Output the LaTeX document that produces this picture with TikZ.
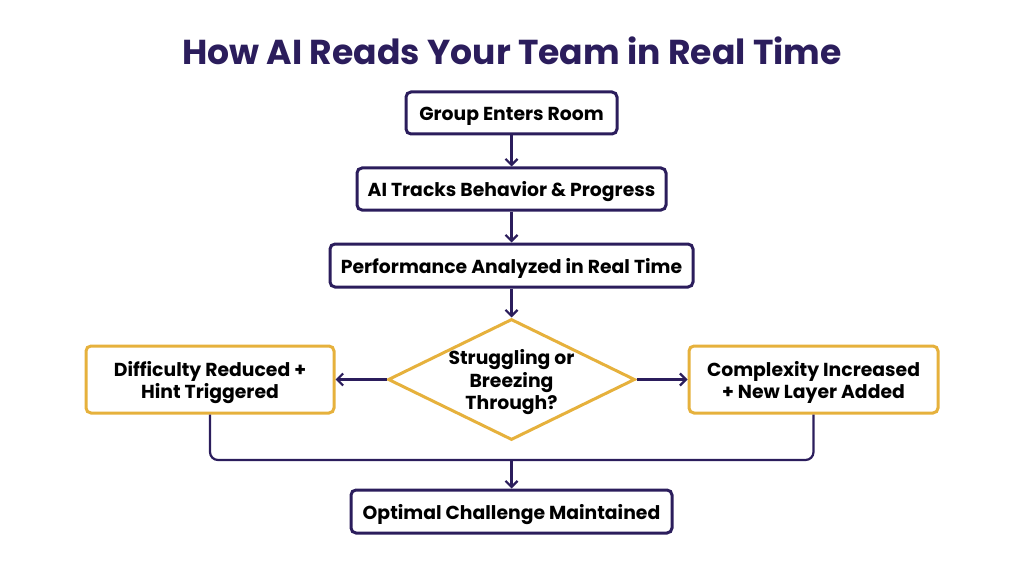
\documentclass[tikz,border=0pt]{standalone}
\usepackage{fontspec}
\setmainfont{Poppins}
\usetikzlibrary{shapes.geometric,arrows.meta}
\definecolor{navy}{HTML}{2B1D5C}
\definecolor{gold}{HTML}{E6B13C}
\begin{document}
\begin{tikzpicture}[x=1pt,y=-1pt,
  lbl/.style={font=\bfseries\fontsize{18.8}{22.5}\selectfont,text=black,align=center,yshift=-3pt,inner sep=0pt},
  box/.style={draw=navy,line width=3pt,rounded corners=5pt,fill=white,inner sep=0pt},
  gbox/.style={box,draw=gold},
  con/.style={draw=navy,line width=2.2pt,-{Straight Barb[length=6pt,width=12pt]}},
  line/.style={draw=navy,line width=2.2pt,rounded corners=8pt}]
\useasboundingbox (0,0) rectangle (1024,572);
\node[font=\bfseries\fontsize{34.6}{40}\selectfont,text=navy] (t) at (512,51) {How AI Reads Your Team in Real Time};
\node[box,minimum width=211pt,minimum height=42pt,label={[lbl]center:Group Enters Room}] (b1) at (511.5,113) {};
\node[box,minimum width=309pt,minimum height=42pt,label={[lbl]center:AI Tracks Behavior \& Progress}] (b2) at (511.5,189) {};
\node[box,minimum width=363pt,minimum height=43pt,label={[lbl]center:Performance Analyzed in Real Time}] (b3) at (511.5,265.5) {};
\node[draw=gold,line width=3pt,diamond,aspect=2.05,fill=white,inner sep=0pt,minimum width=247pt,minimum height=121pt,label={[lbl]center:{Struggling or\\Breezing\\Through?}}] (d) at (511.5,379.5) {};
\node[gbox,minimum width=248pt,minimum height=67pt,label={[lbl]center:{Difficulty Reduced +\\Hint Triggered}}] (l) at (210,379.5) {};
\node[gbox,minimum width=249pt,minimum height=67pt,label={[lbl]center:{Complexity Increased\\+ New Layer Added}}] (r) at (813.5,379.5) {};
\node[box,minimum width=321pt,minimum height=43pt,label={[lbl]center:Optimal Challenge Maintained}] (b4) at (511.5,511.5) {};
\coordinate (j) at (511.5,460);
\draw[con] (b1) -- (b2);
\draw[con] (b2) -- (b3);
\draw[con] (b3) -- (d);
\draw[con] (d.west) -- (l.east);
\draw[con] (d.east) -- (r.west);
\draw[line] (l.south) |- (j) -| (r.south);
\draw[con] (j) -- (b4);
\end{tikzpicture}
\end{document}
